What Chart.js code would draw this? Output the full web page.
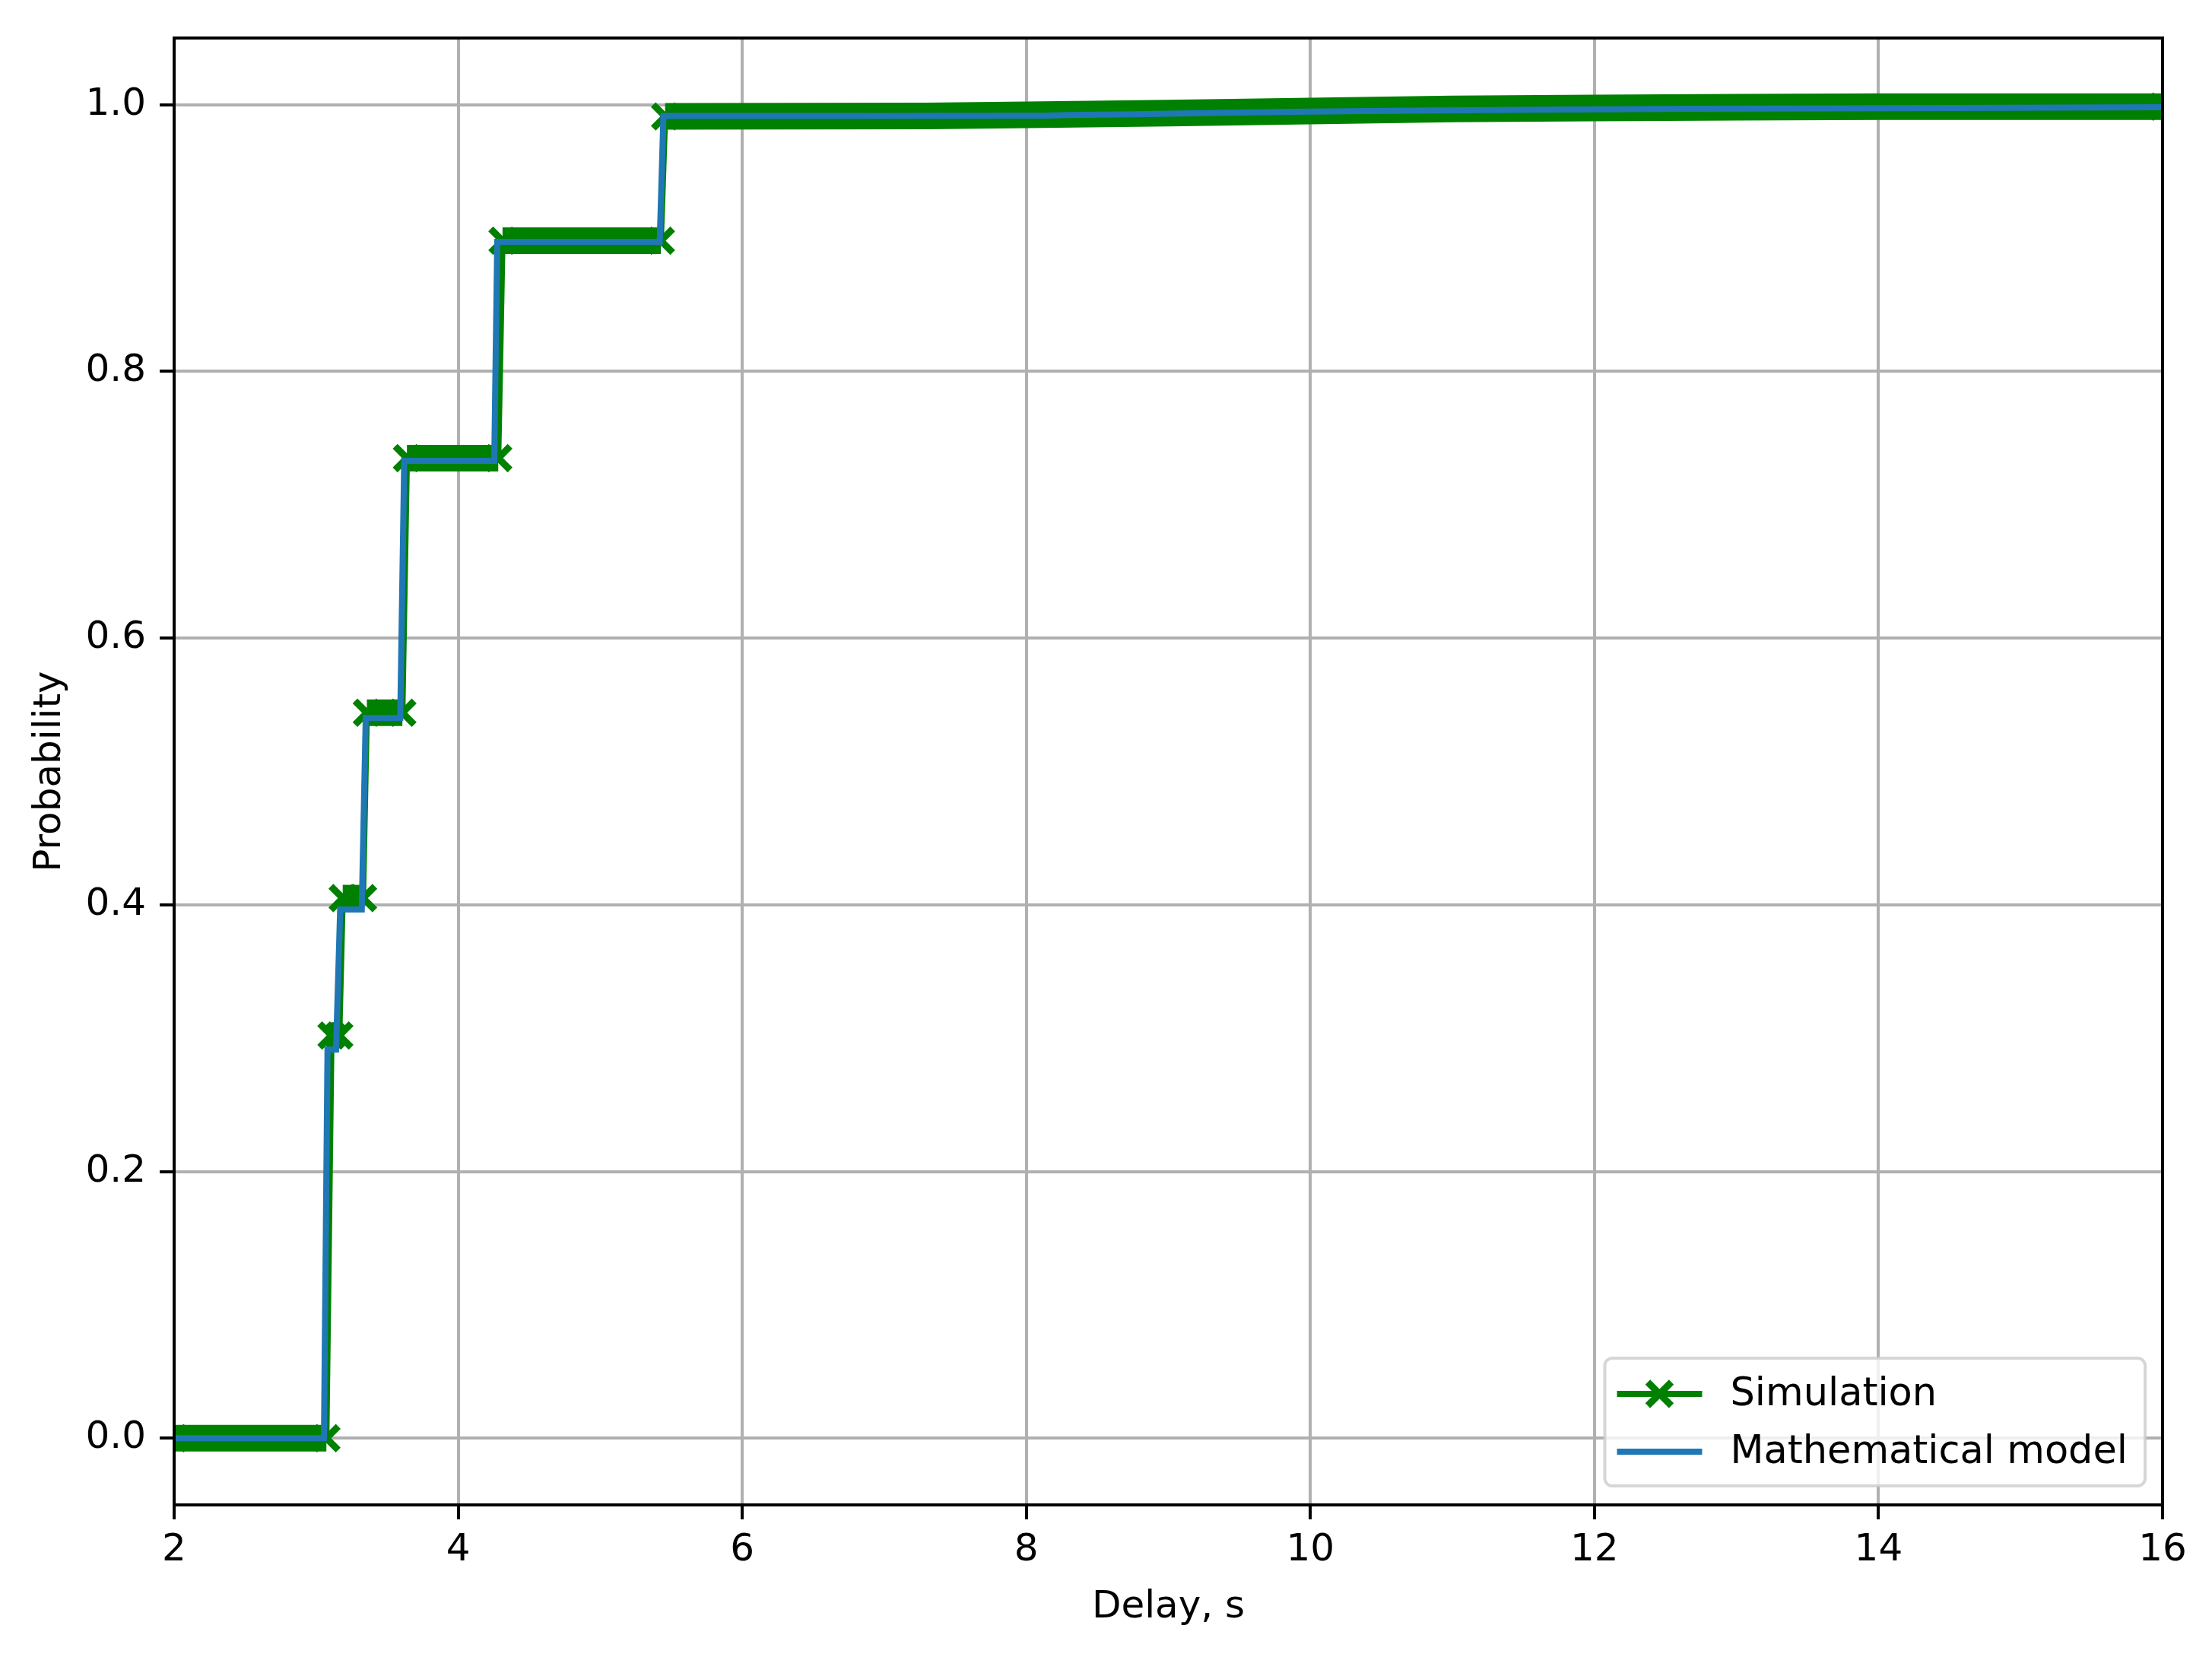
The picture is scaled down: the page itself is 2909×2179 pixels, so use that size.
<!DOCTYPE html>
<html>
<head>
<meta charset="utf-8">
<script src="https://cdn.jsdelivr.net/npm/chart.js@4.4.0/dist/chart.umd.min.js"></script>
<style>
  html, body { margin: 0; padding: 0; background: #ffffff; }
  canvas { display: block; }
</style>
</head>
<body>
<canvas id="c" width="2909" height="2179" style="width:2909px;height:2179px"></canvas>
<script>
// ---------- data ----------
const xTicks = [2, 4, 6, 8, 10, 12, 14, 16];
const yTicks = [0.0, 0.2, 0.4, 0.6, 0.8, 1.0];
const seriesLabels = ['Simulation', 'Mathematical model'];
const axisTitles = ['Delay, s', 'Probability'];

// Simulation: empirical step curve (start / end of every plateau)
const simX = [2.0, 3.072, 3.108, 3.163, 3.187, 3.330, 3.357, 3.607, 3.639, 4.282, 4.312, 5.427,
              5.457, 7.3, 8.0, 9.0, 10.0, 11.0, 12.0, 13.0, 14.0, 16.0];
const simY = [0.0, 0.0, 0.302, 0.302, 0.405, 0.405, 0.544, 0.544, 0.735, 0.735, 0.898, 0.898,
              0.9912, 0.9915, 0.9924, 0.9937, 0.9952, 0.9968, 0.9975, 0.9981, 0.9986, 0.9986];

// Mathematical model
const modelX = [2.0, 3.055, 3.08, 3.14, 3.169, 3.321, 3.349, 3.592, 3.620, 4.254, 4.275, 5.419,
                5.445, 6.86, 8.15, 8.29, 8.76, 9.17, 9.58, 10.0, 10.41, 10.89, 11.61, 12.72,
                14.14, 15.64, 16.0];
const modelY = [0.0, 0.0, 0.2915, 0.2915, 0.3965, 0.3965, 0.540, 0.540, 0.733, 0.733, 0.8972, 0.8972,
                0.9915, 0.9916, 0.9918, 0.9923, 0.9929, 0.9936, 0.9943, 0.9948, 0.9953, 0.9957,
                0.9963, 0.9969, 0.9974, 0.9980, 0.9981];

// ---------- styling ----------
const FONT = "'DejaVu Sans', 'Liberation Sans', sans-serif";
const SIM_COLOR = '#008000';
const MODEL_COLOR = '#1f77b4';
const GRID_COLOR = '#b0b0b0';
const MARKER_R = 22;

Chart.defaults.font.family = FONT;
Chart.defaults.font.size = 50;
Chart.defaults.color = '#000000';

const simPoints = simX.map((x, i) => ({ x: x, y: simY[i] }));
const modelPoints = modelX.map((x, i) => ({ x: x, y: modelY[i] }));

// a marker is visible at the ends of each plateau (inside a plateau it is hidden in the band)
function plateauEnd(i, ys) {
  const prevJump = i === 0 || Math.abs(ys[i] - ys[i - 1]) >= 0.02;
  const nextJump = i === ys.length - 1 || Math.abs(ys[i + 1] - ys[i]) >= 0.02;
  return prevJump || nextJump;
}

// black frame around the plot area (matplotlib spines)
const framePlugin = {
  id: 'frame',
  afterDatasetsDraw(chart) {
    const a = chart.chartArea, ctx = chart.ctx;
    ctx.save();
    ctx.strokeStyle = '#000000';
    ctx.lineWidth = 4;
    ctx.strokeRect(a.left, a.top, a.right - a.left, a.bottom - a.top);
    ctx.restore();
  }
};

// matplotlib-like legend in the lower-right corner of the plot area
const legendPlugin = {
  id: 'mplLegend',
  afterDraw(chart) {
    const ctx = chart.ctx, a = chart.chartArea;
    const ds = chart.data.datasets;
    ctx.save();
    ctx.font = '51px ' + FONT;
    let tw = 0;
    ds.forEach(d => { tw = Math.max(tw, ctx.measureText(d.label).width); });
    const padL = 16, handle = 112, gap = 37, padR = 23, rowH = 76, padT = 47, padB = 45;
    const w = padL + handle + gap + tw + padR;
    const h = padT + rowH * (ds.length - 1) + padB;
    const right = a.right - 23, bottom = a.bottom - 25;
    const left = right - w, top = bottom - h;
    const r = 10;
    ctx.beginPath();
    ctx.moveTo(left + r, top);
    ctx.arcTo(right, top, right, bottom, r);
    ctx.arcTo(right, bottom, left, bottom, r);
    ctx.arcTo(left, bottom, left, top, r);
    ctx.arcTo(left, top, right, top, r);
    ctx.closePath();
    ctx.fillStyle = 'rgba(255,255,255,0.8)';
    ctx.fill();
    ctx.lineWidth = 4;
    ctx.strokeStyle = 'rgba(204,204,204,0.8)';
    ctx.stroke();

    ds.forEach((d, i) => {
      const cy = top + padT + rowH * i;
      const x0 = left + padL, x1 = x0 + handle;
      ctx.strokeStyle = d.borderColor;
      ctx.lineWidth = d.borderWidth;
      ctx.lineCap = 'butt';
      ctx.beginPath();
      ctx.moveTo(x0, cy);
      ctx.lineTo(x1, cy);
      ctx.stroke();
      if (d.pointStyle === 'crossRot') {
        const cx = (x0 + x1) / 2;
        const hh = MARKER_R * Math.SQRT1_2;
        ctx.lineWidth = d.pointBorderWidth;
        ctx.beginPath();
        ctx.moveTo(cx - hh, cy - hh); ctx.lineTo(cx + hh, cy + hh);
        ctx.moveTo(cx - hh, cy + hh); ctx.lineTo(cx + hh, cy - hh);
        ctx.stroke();
      }
      ctx.fillStyle = '#000000';
      ctx.textAlign = 'left';
      ctx.textBaseline = 'middle';
      ctx.fillText(d.label, x1 + gap, cy + 2);
    });
    ctx.restore();
  }
};

new Chart(document.getElementById('c'), {
  type: 'line',
  data: {
    datasets: [
      {
        label: seriesLabels[0],
        data: simPoints,
        borderColor: SIM_COLOR,
        backgroundColor: SIM_COLOR,
        borderWidth: 8,
        pointStyle: 'crossRot',
        pointRadius: c => plateauEnd(c.dataIndex, simY) ? MARKER_R : 0,
        pointHoverRadius: c => plateauEnd(c.dataIndex, simY) ? MARKER_R : 0,
        pointBorderWidth: 9,
        pointBorderColor: SIM_COLOR,
        pointBackgroundColor: 'rgba(0,0,0,0)',
        tension: 0,
        fill: false,
        clip: 0,
        order: 2,
        segment: {
          // plateaus are covered by a dense run of markers -> wide band
          borderWidth: c => Math.abs(c.p1.parsed.y - c.p0.parsed.y) < 0.02 ? 35 : 8
        }
      },
      {
        label: seriesLabels[1],
        data: modelPoints,
        borderColor: MODEL_COLOR,
        backgroundColor: MODEL_COLOR,
        borderWidth: 8,
        pointRadius: 0,
        pointHoverRadius: 0,
        tension: 0,
        fill: false,
        clip: 0,
        order: 1
      }
    ]
  },
  options: {
    responsive: false,
    devicePixelRatio: 1,
    animation: false,
    events: [],
    layout: { padding: { left: 0, top: 50, right: 65, bottom: 0 } },
    plugins: {
      legend: { display: false },
      tooltip: { enabled: false },
      title: { display: false }
    },
    scales: {
      x: {
        type: 'linear',
        min: 2, max: 16,
        afterBuildTicks: s => { s.ticks = xTicks.map(v => ({ value: v })); },
        afterFit: s => { s.height = 200; },
        ticks: {
          autoSkip: false, maxRotation: 0, padding: 11,
          font: { size: 50 }, color: '#000000',
          callback: v => String(v)
        },
        grid: { color: GRID_COLOR, lineWidth: 4, tickLength: 19, tickColor: '#000000', tickWidth: 4 },
        border: { display: false },
        title: { display: true, text: axisTitles[0], font: { size: 50 }, color: '#000000', padding: { top: 0, bottom: 35 } }
      },
      y: {
        type: 'linear',
        min: -0.05, max: 1.05,
        afterBuildTicks: s => { s.ticks = yTicks.map(v => ({ value: v })); },
        afterFit: s => { s.width = 229; },
        ticks: {
          autoSkip: false, padding: 18,
          font: { size: 50 }, color: '#000000',
          callback: v => Number(v).toFixed(1)
        },
        grid: { color: GRID_COLOR, lineWidth: 4, tickLength: 19, tickColor: '#000000', tickWidth: 4 },
        border: { display: false },
        title: { display: true, text: axisTitles[1], font: { size: 50 }, color: '#000000', padding: { top: 36, bottom: 0 } }
      }
    }
  },
  plugins: [framePlugin, legendPlugin]
});
</script>
</body>
</html>
